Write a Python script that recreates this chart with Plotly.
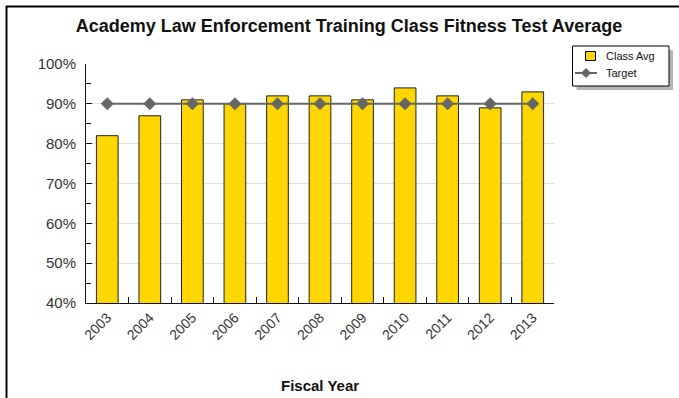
import plotly.graph_objects as go

years = ["2003", "2004", "2005", "2006", "2007", "2008", "2009", "2010", "2011", "2012", "2013"]
class_avg = [82, 87, 91, 90, 92, 92, 91, 94, 92, 89, 93]
target = [90, 90, 90, 90, 90, 90, 90, 90, 90, 90, 90]

W, H = 679, 398
L, R, T, B = 86, 125, 64, 95
pw, ph = W - L - R, H - T - B

BAR = "#FFD700"
LINE = "#666666"


def px(x):
    return (x - L) / pw


def py(y):
    return (H - B - y) / ph


font = "Liberation Sans, Arial, sans-serif"

fig = go.Figure()
fig.add_trace(go.Bar(
    x=years, y=class_avg, name="Class Avg", width=0.51,
    marker=dict(color=BAR, line=dict(color="#222222", width=1)),
))
fig.add_trace(go.Scatter(
    x=years, y=target, name="Target", mode="lines+markers",
    line=dict(color=LINE, width=2),
    marker=dict(symbol="diamond", size=10, color=LINE),
))


def rect(x0, y0, x1, y1, **kw):
    return dict(type="rect", xref="paper", yref="paper",
                x0=px(x0), x1=px(x1), y0=py(y0), y1=py(y1), **kw)


# legend box drawn in pixel terms
lx0, ly0, lx1, ly1 = 572.5, 46, 669, 86
row1, row2 = 56, 73
shapes = [
    # outer frame (top and left edges)
    dict(type="line", xref="paper", yref="paper", x0=px(6), x1=px(W + 2), y0=py(6.5), y1=py(6.5),
         line=dict(color="black", width=2)),
    dict(type="line", xref="paper", yref="paper", x0=px(6.5), x1=px(6.5), y0=py(6), y1=py(H + 2),
         line=dict(color="black", width=2)),
    # legend shadow, frame and symbols
    rect(lx0 + 4, ly0 + 4, lx1 + 4, ly1 + 4, fillcolor="#b5b5b5", line=dict(width=0)),
    rect(lx0, ly0, lx1, ly1, fillcolor="white", line=dict(color="black", width=1)),
    rect(585.5, row1 - 4.5, 595.5, row1 + 4.5, fillcolor=BAR, line=dict(color="black", width=1)),
    dict(type="line", xref="paper", yref="paper", x0=px(575), x1=px(597), y0=py(row2), y1=py(row2),
         line=dict(color=LINE, width=2)),
    dict(type="path", xref="paper", yref="paper",
         path=f"M {px(586)} {py(row2 - 5)} L {px(591)} {py(row2)} L {px(586)} {py(row2 + 5)} L {px(581)} {py(row2)} Z",
         fillcolor=LINE, line=dict(width=0)),
]

annotations = [
    dict(text="Class Avg", xref="paper", yref="paper", x=px(604), y=py(row1),
         xanchor="left", yanchor="middle", showarrow=False,
         font=dict(size=11, color="#111111", family=font)),
    dict(text="Target", xref="paper", yref="paper", x=px(604), y=py(row2),
         xanchor="left", yanchor="middle", showarrow=False,
         font=dict(size=11, color="#111111", family=font)),
    dict(text="<b>Fiscal Year</b>", xref="paper", yref="paper", x=0.5, y=py(385),
         xanchor="center", yanchor="middle", showarrow=False,
         font=dict(size=15, color="#111111", family=font)),
]

fig.update_layout(
    width=W, height=H,
    margin=dict(l=L, r=R, t=T, b=B),
    paper_bgcolor="white", plot_bgcolor="white",
    font=dict(family=font, color="#333333", size=14),
    title=dict(text="<b>Academy Law Enforcement Training Class Fitness Test Average</b>",
               x=0.514, xanchor="center", y=1 - 26 / H, yanchor="middle",
               font=dict(size=18, color="#111111", family=font)),
    bargap=0.49,
    showlegend=False,
    shapes=shapes,
    annotations=annotations,
    xaxis=dict(
        type="category", range=[-0.5, 10.5], automargin=False,
        showline=True, linecolor="#111111", linewidth=1,
        ticks="inside", tickson="boundaries", ticklen=6, tickcolor="#111111",
        tickangle=-45, tickfont=dict(size=14, color="#333333"),
        showgrid=False,
    ),
    yaxis=dict(
        range=[40, 100], dtick=10, ticksuffix="%", automargin=False,
        showline=True, linecolor="#111111", linewidth=1,
        ticks="inside", ticklen=6, tickcolor="#111111",
        tickfont=dict(size=15, color="#333333"), ticklabelstandoff=6,
        showgrid=True, gridcolor="#e0e0e0", gridwidth=1, zeroline=False,
        minor=dict(dtick=5, ticks="inside", ticklen=5, tickcolor="#111111", showgrid=False),
    ),
)

fig.write_html("out.html")
